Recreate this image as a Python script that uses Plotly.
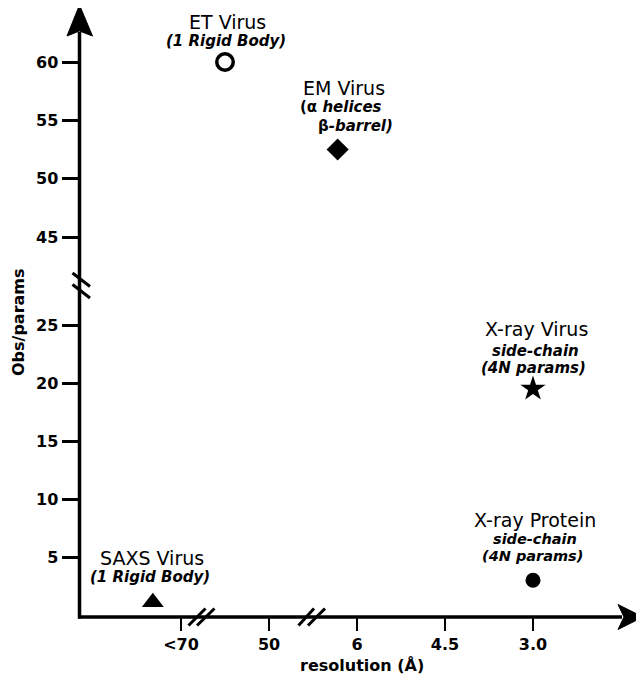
import plotly.graph_objects as go

# ---------------- data ----------------
labels = ["SAXS Virus", "ET Virus", "EM Virus", "X-ray Virus", "X-ray Protein"]
sublines = [
    ["(1 Rigid Body)"],
    ["(1 Rigid Body)"],
    ["(α <i>helices</i>", "β<i>-barrel)</i>"],
    ["<i>side-chain</i>", "<i>(4N params)</i>"],
    ["<i>side-chain</i>", "<i>(4N params)</i>"],
]
res_pos = [-0.32, 0.5, 1.78, 4.0, 4.0]          # position on the (broken) resolution axis
obs_params = [1.1, 60.0, 52.5, 19.5, 3.0]
res_tickvals = [0, 1, 2, 3, 4]
res_ticktext = ["<70", "50", "6", "4.5", "3.0"]
y_low_ticks = [5, 10, 15, 20, 25]
y_high_ticks = [45, 50, 55, 60]

# ---------------- style ----------------
W, H = 644, 678
OFF = 8                             # page body margin
FONT = "DejaVu Sans"
symbols = ["triangle-up", "circle-open", "diamond", "star", "circle"]
sizes = [19, 16.5, 17, 19, 15]
sub_size = [15, 15, 15, 15, 14.5]
# label offsets in pixels: (xshift, yshift) for title and each subline
title_off = [(-1, 44), (2, 40), (6, 62), (3, 60), (2, 60)]
sub_off = [
    [(-3, 25)],
    [(1, 21)],
    [(3, 43), (18, 24)],
    [(2, 38), (0, 21)],
    [(2, 41), (-1, 24)],
]

X0_PX, X_STEP = 181.0, 88.0        # page pixel of first category, pixels per category
AX_X, AX_Y = 79.5, 617.0           # axis line positions (page px)
LOW_ZERO, LOW_SCALE = 615.0, 11.6
HI_REF, HI_REFV, HI_SCALE = 62.0, 60.0, 11.667


def px(x):
    return (x - OFF) / W


def py(y):
    return 1 - (y - OFF) / H


fig = go.Figure()

for i in range(len(labels)):
    on_high = obs_params[i] > 35
    yref = "y2" if on_high else "y"
    open_mk = symbols[i].endswith("open")
    fig.add_trace(go.Scatter(
        x=[res_pos[i]], y=[obs_params[i]], yaxis=yref, mode="markers",
        marker=dict(symbol=symbols[i], size=sizes[i], color="black",
                    line=dict(color="black", width=3.5 if open_mk else 0)),
        showlegend=False, hoverinfo="skip", cliponaxis=False,
    ))
    fig.add_annotation(x=res_pos[i], y=obs_params[i], xref="x", yref=yref,
                       text=labels[i], showarrow=False,
                       xshift=title_off[i][0], yshift=title_off[i][1],
                       font=dict(family=FONT, size=19, color="black"))
    for j, s in enumerate(sublines[i]):
        fig.add_annotation(x=res_pos[i], y=obs_params[i], xref="x", yref=yref,
                           text=s if "<i>" in s else "<i>" + s + "</i>", showarrow=False,
                           xshift=sub_off[i][j][0], yshift=sub_off[i][j][1],
                           font=dict(family=FONT, size=sub_size[i], color="black",
                                     weight="bold"))

tickfont = dict(family=FONT, size=16, color="black", weight="bold")
axis_common = dict(showgrid=False, zeroline=False, showline=False, ticks="outside",
                   tickcolor="black", tickfont=tickfont)

fig.update_layout(
    width=W, height=H, margin=dict(l=0, r=0, t=0, b=0),
    paper_bgcolor="white", plot_bgcolor="white",
    xaxis=dict(domain=[px(AX_X), 1.0],
               range=[(AX_X - X0_PX) / X_STEP, (W + OFF - X0_PX) / X_STEP],
               tickvals=res_tickvals, ticktext=res_ticktext, ticklen=13, tickwidth=2,
               anchor="y", **axis_common),
    yaxis=dict(domain=[py(AX_Y), py(290)],
               range=[(LOW_ZERO - AX_Y) / LOW_SCALE, (LOW_ZERO - 290) / LOW_SCALE],
               tickvals=y_low_ticks, ticklen=17, tickwidth=2.5, anchor="x", **axis_common),
    yaxis2=dict(domain=[py(280), py(30)],
                range=[HI_REFV - (280 - HI_REF) / HI_SCALE, HI_REFV + (HI_REF - 30) / HI_SCALE],
                tickvals=y_high_ticks, ticklen=17, tickwidth=2.5, anchor="x", **axis_common),
)

shapes = []
line = dict(color="black", width=3.5)
# axis lines
shapes.append(dict(type="line", xref="paper", yref="paper", x0=px(AX_X), x1=px(AX_X),
                   y0=py(AX_Y + 1.5), y1=py(32), line=line))
shapes.append(dict(type="line", xref="paper", yref="paper", x0=px(AX_X - 1.5), x1=px(622),
                   y0=py(AX_Y), y1=py(AX_Y), line=line))


def path(pts):
    return "M " + " L ".join(f"{px(a):.5f},{py(b):.5f}" for a, b in pts) + " Z"


# arrow heads
shapes.append(dict(type="path", xref="paper", yref="paper",
                   path=path([(AX_X, 5), (92.5, 36), (AX_X, 31), (67, 36)]),
                   fillcolor="black", line=dict(color="black", width=1)))
shapes.append(dict(type="path", xref="paper", yref="paper",
                   path=path([(643, AX_Y), (618, 629.5), (624, AX_Y), (618, 604.5)]),
                   fillcolor="black", line=dict(color="black", width=1)))
# break marks
brk = dict(color="black", width=3)
for (a, b, c, d) in [(72.5, 273, 90, 286.5), (72.5, 284.5, 90, 298),
                     (188.5, 625.5, 205.5, 608.5), (197, 625.5, 214.5, 608.5),
                     (298.5, 625.5, 314, 608.5), (308, 625.5, 325, 608.5)]:
    shapes.append(dict(type="line", xref="paper", yref="paper",
                       x0=px(a), y0=py(b), x1=px(c), y1=py(d), line=brk))
fig.update_layout(shapes=shapes)

# axis titles
fig.add_annotation(x=px(18), y=py(322), xref="paper", yref="paper", text="Obs/params",
                   textangle=-90, showarrow=False, xanchor="center", yanchor="middle",
                   font=dict(family=FONT, size=16, color="black", weight="bold"))
fig.add_annotation(x=px(361.5), y=py(665), xref="paper", yref="paper", text="resolution (Å)",
                   showarrow=False, xanchor="center", yanchor="middle",
                   font=dict(family=FONT, size=16, color="black", weight="bold"))

fig.write_html("out.html")
